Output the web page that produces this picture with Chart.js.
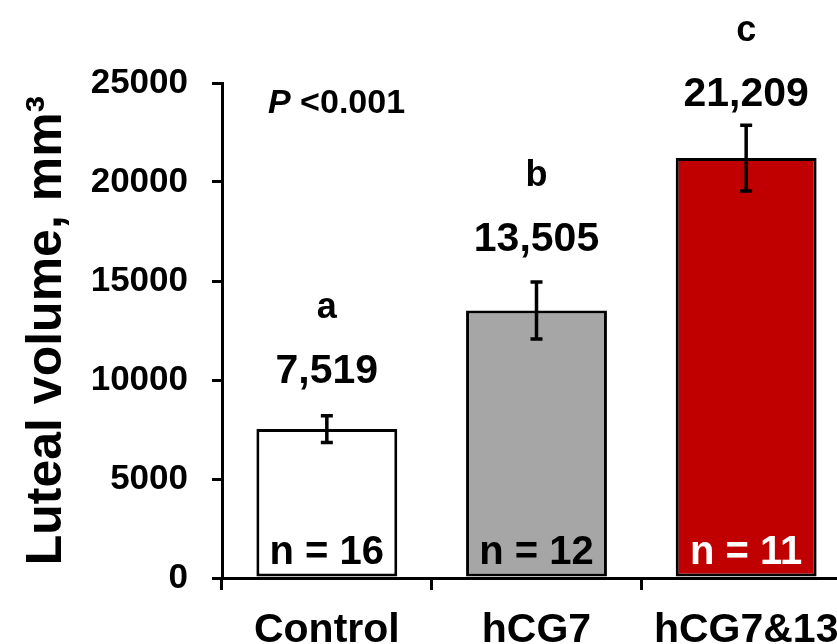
<!DOCTYPE html>
<html>
<head>
<meta charset="utf-8">
<script src="https://cdn.jsdelivr.net/npm/chart.js@4.4.1/dist/chart.umd.min.js"></script>
<style>
    html, body { margin: 0; padding: 0; background: #fff; overflow: hidden; }
    #wrap { width: 837px; height: 644px; overflow: hidden; }
    canvas { display: block; }
</style>
</head>
<body>
<div id="wrap"><canvas id="luteal" width="870" height="680"></canvas></div>
<script>
const groups = ['Control', 'hCG7', 'hCG7&13'];
const means = [7519, 13505, 21209];
const sems = [680, 1440, 1660];
const letters = ['a', 'b', 'c'];
const counts = [16, 12, 11];
const barColors = ['#ffffff', '#a6a6a6', '#c00000'];
const countColors = ['#000000', '#000000', '#ffffff'];
const yTicks = [0, 5000, 10000, 15000, 20000, 25000];
const pValue = '<0.001';

const FONT = "'Liberation Sans', Arial, sans-serif";

// error bars, value labels, letters, n = and the P value
const annotate = {
    id: 'annotate',
    afterDatasetsDraw(chart) {
        const ctx = chart.ctx;
        const y = chart.scales.y;
        const area = chart.chartArea;
        const bars = chart.getDatasetMeta(0).data;
        const lift = [33, 31, 19];
        ctx.save();
        ctx.textAlign = 'center';
        ctx.textBaseline = 'alphabetic';
        bars.forEach((bar, i) => {
            const top = y.getPixelForValue(means[i] + sems[i]);
            const bot = y.getPixelForValue(means[i] - sems[i]);
            ctx.strokeStyle = '#000';
            ctx.lineWidth = 3.5;
            ctx.beginPath();
            ctx.moveTo(bar.x, top);
            ctx.lineTo(bar.x, bot);
            ctx.moveTo(bar.x - 6, top);
            ctx.lineTo(bar.x + 6, top);
            ctx.moveTo(bar.x - 6, bot);
            ctx.lineTo(bar.x + 6, bot);
            ctx.stroke();

            const base = top - lift[i];
            ctx.fillStyle = '#000';
            ctx.font = 'bold 41px ' + FONT;
            ctx.fillText(means[i].toLocaleString('en-US'), bar.x, base);
            ctx.font = 'bold 36px ' + FONT;
            ctx.fillText(letters[i], bar.x, base - 65);

            ctx.fillStyle = countColors[i];
            ctx.font = 'bold 40px ' + FONT;
            ctx.fillText('n = ' + counts[i], bar.x, area.bottom - 14);
        });

        ctx.textAlign = 'left';
        ctx.fillStyle = '#000';
        let x = area.left + 46;
        ctx.font = 'italic bold 34px ' + FONT;
        ctx.fillText('P', x, 113);
        x += ctx.measureText('P ').width;
        ctx.font = 'bold 34px ' + FONT;
        ctx.fillText(pValue, x, 113);
        ctx.restore();
    }
};

let chart = new Chart(document.getElementById('luteal'), {
    type: 'bar',
    data: {
        labels: groups,
        datasets: [
            {
                data: means,
                backgroundColor: barColors,
                borderColor: '#000',
                borderWidth: 3,
                borderSkipped: false,
                barPercentage: 0.672,
                categoryPercentage: 1,
            }
        ],
    },
    options: {
        responsive: false,
        animation: false,
        devicePixelRatio: 1,
        layout: { padding: { top: 83, right: 19, left: 0, bottom: 0 } },
        plugins: {
            legend: { display: false },
            tooltip: { enabled: false },
        },
        scales: {
            x: {
                grid: { drawOnChartArea: false, drawTicks: true, tickLength: 12, color: '#000', lineWidth: 3, offset: true },
                border: { color: '#000', width: 3 },
                ticks: { color: '#000', font: { family: FONT, size: 41, weight: 'bold' }, padding: 16 },
                afterFit(s) { s.height = 680 - 578; },
            },
            y: {
                min: 0,
                max: 25000,
                afterBuildTicks(s) { s.ticks = yTicks.map(v => ({ value: v })); },
                grid: { drawOnChartArea: false, drawTicks: true, tickLength: 10, color: '#000', lineWidth: 3 },
                border: { color: '#000', width: 3 },
                ticks: {
                    color: '#000',
                    font: { family: FONT, size: 35, weight: 'bold' },
                    padding: 24,
                    callback: v => String(v),
                },
                title: {
                    display: true,
                    text: 'Luteal volume, mm³',
                    color: '#000',
                    font: { family: FONT, size: 50, weight: 'bold' },
                    padding: { top: 17, bottom: 0 },
                },
                afterFit(s) { s.width = 222; },
            },
        },
    },
    plugins: [annotate],
});
</script>
</body>
</html>
